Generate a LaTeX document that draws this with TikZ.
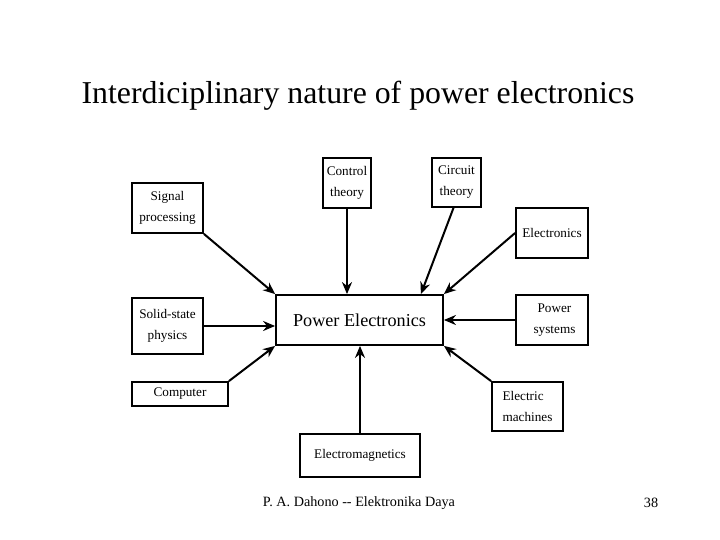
\documentclass[tikz,border=0pt]{standalone}
\usepackage{fontspec}
\setmainfont{Liberation Serif}
\usetikzlibrary{arrows.meta,positioning}
\tikzset{
  box/.style={draw, line width=1.8pt, inner sep=0pt, align=center, font=\fontsize{13.2}{21}\selectfont},
  pre/.style={-{Stealth[length=12pt,width=10pt]}, line width=2pt},
  ttl/.style={font=\fontsize{31.8}{36}\selectfont},
  foot/.style={font=\fontsize{14.2}{16}\selectfont},
}
\begin{document}
\begin{tikzpicture}[x=1pt,y=-1pt]
\useasboundingbox (0,0) rectangle (720,540);
\node[ttl] (title) at (358,96) {Interdiciplinary nature of power electronics};
% centre box
\node[box, minimum width=167pt, minimum height=50pt, font=\fontsize{18.2}{20}\selectfont] (pe) at (359.5,320) {Power Electronics};
% surrounding fields
\node[box, minimum width=71pt, minimum height=50pt] (sig) at (167.5,208) {Signal\\processing};
\node[box, minimum width=48pt, minimum height=50pt] (ctl) at (347,183) {Control\\theory};
\node[box, minimum width=49pt, minimum height=49pt] (cir) at (456.5,182.5) {Circuit\\theory};
\node[box, minimum width=72pt, minimum height=50pt] (elc) at (552,233) {Electronics};
\node[box, minimum width=71pt, minimum height=56pt] (sol) at (167.5,326) {Solid-state\\physics};
\node[box, minimum width=72pt, minimum height=50pt] (psy) at (552,320) {\hspace*{5pt}Power\\\hspace*{5pt}systems};
\node[box, minimum width=96pt, minimum height=24pt] (com) at (180,394) {Computer};
\node[box, minimum width=71pt, minimum height=49pt, align=left] (mac) at (527.5,406.5) {Electric\\machines};
\node[box, minimum width=120pt, minimum height=43pt] (emg) at (360,455.5) {Electromagnetics};
% arrows into the centre
\draw[pre] (sig.south east) -- (pe.north west);
\draw[pre] (ctl.south) -- (ctl.south |- pe.north);
\draw[pre] ([xshift=-3pt]cir.south) -- ([xshift=-23pt]pe.north east);
\draw[pre] (elc.west) -- (pe.north east);
\draw[pre] (sol.east) -- (sol.east -| pe.west);
\draw[pre] (psy.west) -- (pe.east);
\draw[pre] (com.north east) -- (pe.south west);
\draw[pre] (emg.north) -- (emg.north |- pe.south);
\draw[pre] (mac.north west) -- (pe.south east);
% footer
\node[foot] (author) at (359,503) {P. A. Dahono {-}{-} Elektronika Daya};
\node[foot] (page) at (651,503) {38};
\end{tikzpicture}
\end{document}
